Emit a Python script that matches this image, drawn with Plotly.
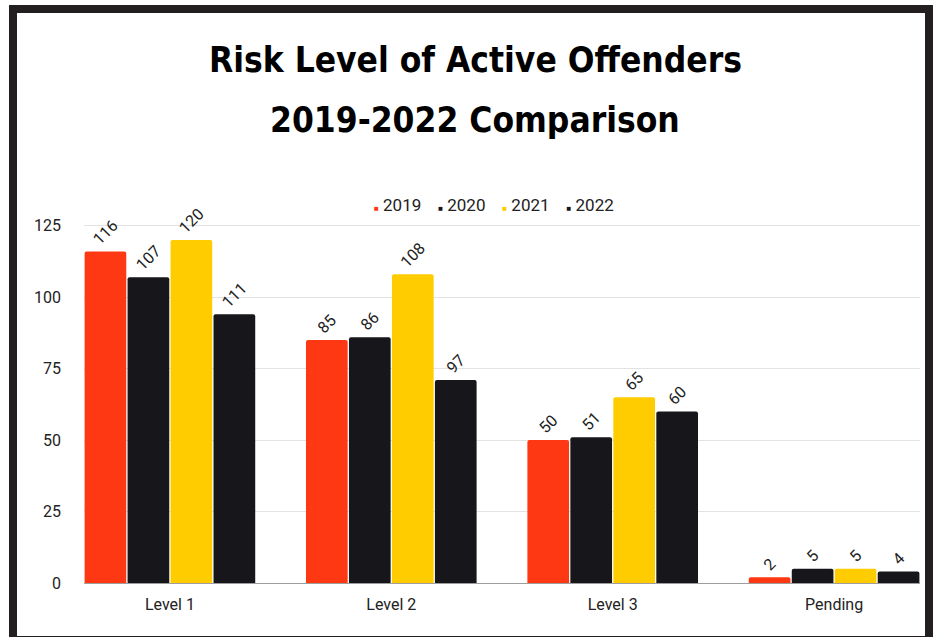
import plotly.graph_objects as go

categories = ["Level 1", "Level 2", "Level 3", "Pending"]
years = ["2019", "2020", "2021", "2022"]
bar_values = {
    "2019": [116, 85, 50, 2],
    "2020": [107, 86, 51, 5],
    "2021": [120, 108, 65, 5],
    "2022": [94, 71, 60, 4],
}
label_values = {
    "2019": [116, 85, 50, 2],
    "2020": [107, 86, 51, 5],
    "2021": [120, 108, 65, 5],
    "2022": [111, 97, 60, 4],
}
colors = {"2019": "#ff3814", "2020": "#17161a", "2021": "#ffcc00", "2022": "#17161a"}
y_ticks = [0, 25, 50, 75, 100, 125]
title_lines = ["Risk Level of Active Offenders", "2019-2022 Comparison"]

W, H = 938, 637
L, R, T, B = 84, 920, 220, 583  # plot area in px

fig = go.Figure()
for yr in years:
    fig.add_trace(go.Bar(
        x=categories, y=bar_values[yr], name=yr,
        marker=dict(color=colors[yr], line=dict(width=0)),
        text=[str(v) for v in label_values[yr]],
        textposition="outside", textangle=-45,
        textfont=dict(family="Roboto", size=16, color="#222222"),
        cliponaxis=False, showlegend=False,
    ))

def px_x(p):
    return (p - L) / (R - L)

def px_y(p):
    return (B - p) / (B - T)

# frame
fig.add_shape(type="rect", xref="paper", yref="paper",
              x0=px_x(13), x1=px_x(929), y0=px_y(640), y1=px_y(9),
              line=dict(color="#231f20", width=8), fillcolor="rgba(0,0,0,0)")

# title lines
for line, yc in zip(title_lines, [60, 120]):
    fig.add_annotation(
        text="<b>%s</b>" % line, xref="paper", yref="paper",
        x=px_x(475), y=px_y(yc), xanchor="center", yanchor="middle",
        showarrow=False,
        font=dict(family="Liberation Sans Narrow, DejaVu Sans Condensed, sans-serif",
                  size=35, color="#000000"),
    )

# legend as text
legend_parts = []
for yr in years:
    legend_parts.append(
        "<span style='font-size:8px;color:%s'>■</span> %s" % (colors[yr], yr)
    )
legend_text = "&nbsp;&nbsp;&nbsp;&nbsp;".join(legend_parts)
fig.add_annotation(
    text=legend_text, xref="paper", yref="paper",
    x=px_x(494), y=px_y(205), xanchor="center", yanchor="middle",
    showarrow=False, font=dict(family="Roboto", size=17, color="#222222"),
)

fig.update_layout(
    width=W, height=H,
    margin=dict(l=L, r=W - R, t=T, b=H - B, autoexpand=False),
    paper_bgcolor="white", plot_bgcolor="white",
    barmode="group", bargap=0.2235, bargroupgap=0.03,
    barcornerradius=2,
    showlegend=False,
    xaxis=dict(
        range=[-0.388, 3.388], showgrid=False, showline=False, ticks="",
        tickfont=dict(family="Roboto", size=16, color="#222222"),
        ticklabelstandoff=10,
    ),
    yaxis=dict(
        range=[0, 127], tickvals=y_ticks, showgrid=True, gridcolor="#e3e3e3",
        zeroline=True, zerolinecolor="#9e9e9e", zerolinewidth=1,
        tickfont=dict(family="Roboto", size=16, color="#222222"),
        ticklabelstandoff=22, showline=False,
    ),
)

fig.write_html("out.html", config={"displayModeBar": False},
               post_script="document.body.style.margin='0';")
